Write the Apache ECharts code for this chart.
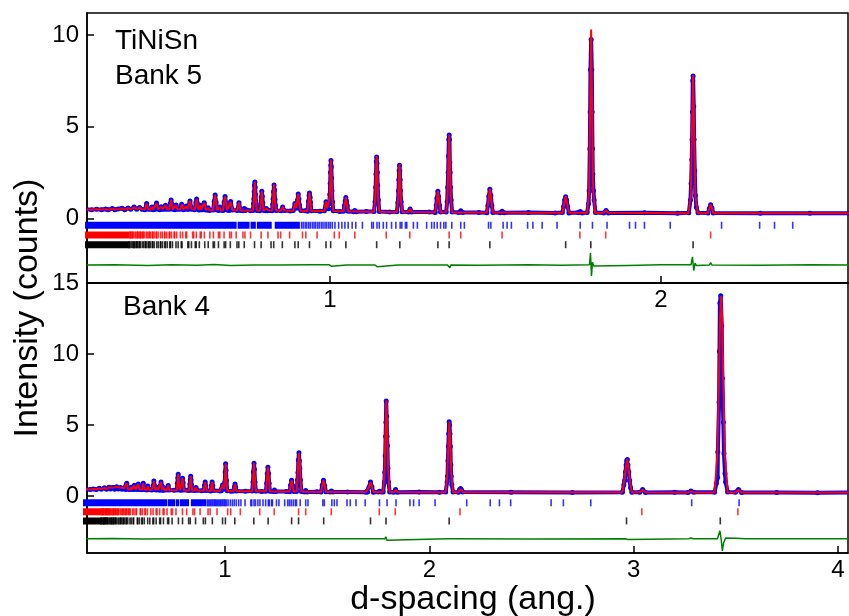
<!DOCTYPE html>
<html><head><meta charset="utf-8">
<script src="https://cdn.jsdelivr.net/npm/echarts@6/dist/echarts.min.js"></script>
<style>html,body{margin:0;padding:0;background:#fff}#c{width:849px;height:616px}</style>
</head><body><div id="c"></div>
<script>
// ---------- Bank 5 (top panel) ----------
const calc5 = [
[0.265,0.48],[0.28,0.47],[0.295,0.49],[0.31,0.48],[0.322,0.5],[0.33,0.47],[0.342,0.52],[0.35,0.48],[0.36,0.5],[0.372,0.54],[0.38,0.48],[0.39,0.55],[0.398,0.5],[0.408,0.6],[0.416,0.5],[0.425,0.58],[0.432,0.5],
[0.441,0.48],[0.446,0.8],[0.451,0.5],[0.458,0.48],[0.462,0.62],[0.466,0.48],[0.471,0.48],[0.476,0.82],[0.481,0.5],
[0.486,0.48],[0.490,0.62],[0.494,0.5],[0.499,0.48],[0.503,0.72],[0.507,0.5],
[0.515,0.5],[0.518,0.8],[0.520,1.02],[0.522,0.8],[0.525,0.48],[0.531,0.48],[0.535,0.72],[0.539,0.5],
[0.547,0.48],[0.552,0.78],[0.557,0.48],[0.562,0.48],[0.566,0.66],[0.570,0.5],[0.573,0.5],[0.577,0.96],[0.582,0.5],
[0.591,0.46],[0.595,0.85],[0.597,1.06],[0.599,0.85],[0.603,0.46],[0.605,0.46],[0.608,0.7],[0.611,0.48],
[0.615,0.46],[0.620,0.86],[0.625,0.46],[0.629,0.44],[0.632,0.56],[0.636,0.44],
[0.647,0.44],[0.650,0.9],[0.653,1.28],[0.656,0.9],[0.659,0.44],[0.664,0.44],[0.667,0.6],[0.670,0.44],
[0.677,0.44],[0.680,0.85],[0.683,1.2],[0.686,0.85],[0.689,0.44],[0.695,0.44],[0.700,0.9],[0.705,0.44],
[0.720,0.44],[0.725,0.86],[0.730,0.42],[0.737,0.42],[0.741,0.52],[0.745,0.42],[0.760,0.42],
[0.767,0.42],[0.770,1.0],[0.7717,1.6],[0.773,2.0],[0.7743,1.6],[0.776,1.0],[0.779,0.42],
[0.788,0.42],[0.7915,0.9],[0.794,1.5],[0.7965,0.9],[0.800,0.42],[0.805,0.42],[0.808,0.52],[0.811,0.42],[0.818,0.42],
[0.825,0.42],[0.828,1.0],[0.8296,1.5],[0.831,1.85],[0.8324,1.5],[0.834,1.0],[0.837,0.42],
[0.852,0.42],[0.857,0.62],[0.862,0.42],[0.880,0.41],
[0.889,0.41],[0.894,0.82],[0.898,0.55],[0.900,0.55],[0.904,1.35],[0.908,0.7],[0.912,0.41],[0.925,0.40],
[0.932,0.40],[0.935,0.9],[0.938,1.4],[0.941,0.9],[0.944,0.40],[0.970,0.40],
[0.983,0.40],[0.988,0.92],[0.992,0.55],[0.996,0.5],[0.9995,1.2],[1.0013,2.5],[1.003,3.2],[1.0047,2.5],[1.0065,1.2],[1.010,0.40],
[1.030,0.38],[1.041,0.38],[1.045,0.8],[1.048,1.16],[1.051,0.8],[1.055,0.38],[1.071,0.37],[1.075,0.42],[1.079,0.37],[1.110,0.36],
[1.133,0.36],[1.137,1.2],[1.139,2.6],[1.141,3.4],[1.143,2.6],[1.145,1.2],[1.149,0.36],[1.180,0.35],
[1.202,0.35],[1.206,1.1],[1.208,2.2],[1.210,2.95],[1.212,2.2],[1.214,1.1],[1.218,0.35],
[1.237,0.35],[1.242,0.5],[1.247,0.35],[1.300,0.33],
[1.318,0.33],[1.322,0.9],[1.326,1.5],[1.330,0.9],[1.334,0.33],
[1.351,0.33],[1.3555,1.4],[1.358,3.4],[1.360,4.55],[1.362,3.4],[1.3645,1.4],[1.369,0.33],
[1.389,0.32],[1.395,0.4],[1.401,0.32],[1.450,0.31],
[1.474,0.31],[1.478,0.9],[1.483,1.6],[1.488,0.9],[1.492,0.31],[1.514,0.31],[1.520,0.38],[1.526,0.31],
[1.600,0.30],[1.680,0.30],[1.702,0.30],[1.707,0.75],[1.712,1.2],[1.717,0.75],[1.722,0.30],
[1.750,0.30],[1.756,0.38],[1.762,0.30],
[1.777,0.30],[1.783,1.5],[1.786,6.0],[1.789,10.3],[1.792,6.0],[1.795,1.5],[1.801,0.30],
[1.827,0.30],[1.834,0.42],[1.841,0.30],[1.950,0.29],[2.050,0.28],
[2.083,0.28],[2.090,1.2],[2.0935,4.6],[2.097,7.8],[2.1005,4.6],[2.104,1.2],[2.111,0.28],
[2.142,0.28],[2.146,0.55],[2.150,0.75],[2.154,0.55],[2.158,0.28],
[2.300,0.28],[2.450,0.27],[2.570,0.27]
];
const obs5 = [
[0.265,0.49],[0.28,0.46],[0.295,0.5],[0.31,0.47],[0.322,0.51],[0.33,0.46],[0.342,0.53],[0.35,0.47],[0.36,0.51],[0.372,0.55],[0.38,0.47],[0.39,0.56],[0.398,0.49],[0.408,0.61],[0.416,0.49],[0.425,0.59],[0.432,0.49],
[0.441,0.47],[0.446,0.81],[0.451,0.49],[0.458,0.49],[0.462,0.61],[0.466,0.47],[0.471,0.49],[0.476,0.83],[0.481,0.49],
[0.486,0.47],[0.490,0.63],[0.494,0.49],[0.499,0.49],[0.503,0.71],[0.507,0.49],
[0.515,0.49],[0.518,0.82],[0.520,1.0],[0.522,0.79],[0.525,0.49],[0.531,0.47],[0.535,0.73],[0.539,0.49],
[0.547,0.49],[0.552,0.77],[0.557,0.47],[0.562,0.49],[0.566,0.67],[0.570,0.49],[0.573,0.49],[0.577,0.95],[0.582,0.49],
[0.591,0.47],[0.595,0.86],[0.597,1.05],[0.599,0.84],[0.603,0.47],[0.605,0.45],[0.608,0.71],[0.611,0.47],
[0.615,0.47],[0.620,0.85],[0.625,0.45],[0.629,0.45],[0.632,0.57],[0.636,0.43],
[0.647,0.45],[0.650,0.92],[0.653,1.27],[0.656,0.88],[0.659,0.45],[0.664,0.43],[0.667,0.61],[0.670,0.45],
[0.677,0.43],[0.680,0.87],[0.683,1.19],[0.686,0.83],[0.689,0.45],[0.695,0.43],[0.700,0.91],[0.705,0.45],
[0.720,0.43],[0.725,0.85],[0.730,0.43],[0.737,0.41],[0.741,0.53],[0.745,0.43],[0.760,0.41],
[0.767,0.43],[0.769,0.8],[0.770,1.05],[0.771,1.45],[0.772,1.8],[0.773,1.98],[0.774,1.7],[0.775,1.3],[0.776,0.95],[0.779,0.43],
[0.788,0.41],[0.791,0.8],[0.7925,1.15],[0.794,1.48],[0.7955,1.2],[0.797,0.85],[0.800,0.43],
[0.805,0.41],[0.808,0.53],[0.811,0.41],[0.818,0.43],
[0.825,0.41],[0.827,0.75],[0.828,1.05],[0.8295,1.45],[0.831,1.82],[0.8325,1.55],[0.834,1.02],[0.8355,0.7],[0.837,0.43],
[0.852,0.41],[0.857,0.61],[0.862,0.43],[0.880,0.40],
[0.889,0.42],[0.894,0.81],[0.898,0.56],[0.900,0.56],[0.902,1.0],[0.904,1.33],[0.906,1.05],[0.908,0.72],[0.912,0.42],[0.925,0.41],
[0.932,0.39],[0.935,0.92],[0.937,1.25],[0.938,1.38],[0.940,1.15],[0.941,0.88],[0.944,0.41],[0.970,0.39],
[0.983,0.41],[0.988,0.9],[0.992,0.56],[0.996,0.52],[0.998,0.8],[0.9995,1.3],[1.0005,1.9],[1.0015,2.5],[1.0025,2.9],[1.003,3.15],[1.004,2.8],[1.005,2.2],[1.006,1.5],[1.0075,0.9],[1.010,0.41],
[1.030,0.37],[1.041,0.39],[1.044,0.7],[1.046,0.95],[1.048,1.14],[1.050,0.95],[1.052,0.7],[1.055,0.39],
[1.071,0.36],[1.075,0.43],[1.079,0.36],[1.110,0.37],
[1.133,0.37],[1.136,0.9],[1.138,1.7],[1.139,2.4],[1.140,3.1],[1.141,3.35],[1.142,3.0],[1.143,2.5],[1.144,1.8],[1.146,1.0],[1.149,0.37],[1.180,0.34],
[1.202,0.36],[1.205,0.85],[1.207,1.5],[1.208,2.1],[1.209,2.6],[1.210,2.9],[1.211,2.6],[1.212,2.1],[1.213,1.5],[1.215,0.9],[1.218,0.36],
[1.237,0.34],[1.242,0.51],[1.247,0.34],[1.300,0.34],
[1.318,0.32],[1.321,0.7],[1.323,1.1],[1.326,1.48],[1.328,1.2],[1.331,0.7],[1.334,0.34],
[1.351,0.34],[1.354,0.9],[1.3555,1.7],[1.357,2.5],[1.358,3.4],[1.359,4.3],[1.360,4.55],[1.361,4.3],[1.362,3.05],[1.363,2.5],[1.364,1.7],[1.366,1.0],[1.369,0.34],
[1.389,0.31],[1.395,0.41],[1.401,0.31],[1.450,0.32],
[1.474,0.30],[1.477,0.7],[1.480,1.2],[1.483,1.58],[1.486,1.25],[1.489,0.7],[1.492,0.32],[1.514,0.30],[1.520,0.39],[1.526,0.30],
[1.600,0.31],[1.680,0.29],[1.702,0.31],[1.706,0.65],[1.709,1.0],[1.712,1.18],[1.715,1.0],[1.718,0.65],[1.722,0.29],
[1.750,0.31],[1.756,0.37],[1.762,0.29],
[1.777,0.32],[1.781,0.8],[1.783,1.5],[1.785,3.8],[1.786,5.8],[1.787,8.1],[1.789,9.75],[1.791,8.1],[1.792,5.8],[1.793,3.8],[1.794,2.4],[1.796,1.5],[1.798,1.0],[1.802,0.32],
[1.827,0.29],[1.834,0.43],[1.841,0.29],[1.950,0.30],[2.050,0.27],
[2.084,0.30],[2.089,1.0],[2.091,1.9],[2.093,3.2],[2.094,4.3],[2.095,5.8],[2.096,7.5],[2.097,7.76],[2.099,6.1],[2.100,4.3],[2.102,2.6],[2.104,1.25],[2.107,0.6],[2.112,0.30],
[2.142,0.29],[2.146,0.54],[2.150,0.74],[2.154,0.56],[2.158,0.29],
[2.300,0.27],[2.450,0.28],[2.570,0.27]
];
const diff5 = [
[0.265,-2.55],[0.35,-2.53],[0.45,-2.57],[0.52,-2.53],[0.60,-2.56],[0.65,-2.52],[0.70,-2.57],[0.770,-2.55],[0.773,-2.5],[0.776,-2.6],[0.779,-2.55],
[0.85,-2.55],[0.94,-2.53],[0.998,-2.54],[1.001,-2.47],[1.005,-2.62],[1.008,-2.55],[1.05,-2.55],
[1.136,-2.55],[1.139,-2.45],[1.143,-2.65],[1.146,-2.55],[1.206,-2.55],[1.209,-2.48],[1.212,-2.62],[1.215,-2.55],[1.3,-2.55],
[1.355,-2.55],[1.358,-2.45],[1.362,-2.7],[1.365,-2.55],[1.45,-2.56],[1.6,-2.54],[1.7,-2.56],
[1.784,-2.53],[1.787,-1.9],[1.790,-3.15],[1.793,-2.4],[1.797,-2.6],[1.800,-2.55],[1.9,-2.57],[2.0,-2.54],
[2.091,-2.53],[2.095,-2.1],[2.099,-2.85],[2.103,-2.45],[2.107,-2.58],[2.110,-2.55],[2.146,-2.55],[2.150,-2.42],[2.154,-2.55],
[2.3,-2.56],[2.45,-2.54],[2.57,-2.55]
];

// ---------- Bank 4 (bottom panel) ----------
const calc4 = [
[0.32,0.48],[0.34,0.47],[0.355,0.5],[0.37,0.48],[0.385,0.55],[0.395,0.5],[0.41,0.58],[0.42,0.5],[0.432,0.62],[0.44,0.52],[0.452,0.6],[0.46,0.5],[0.47,0.65],[0.478,0.52],[0.488,0.6],[0.496,0.5],[0.505,0.55],
[0.513,0.48],[0.519,0.9],[0.525,0.48],[0.535,0.47],[0.540,0.62],[0.545,0.47],[0.551,0.47],[0.556,0.75],[0.561,0.47],
[0.570,0.46],[0.576,0.86],[0.582,0.46],[0.594,0.46],[0.600,0.9],[0.606,0.46],[0.617,0.45],[0.622,0.7],[0.627,0.45],[0.640,0.44],
[0.646,0.44],[0.650,0.8],[0.652,1.08],[0.654,0.8],[0.658,0.44],[0.665,0.44],[0.669,0.6],[0.673,0.44],
[0.681,0.43],[0.687,1.0],[0.693,0.43],[0.696,0.43],[0.700,0.6],[0.704,0.43],[0.716,0.42],[0.722,0.76],[0.728,0.42],[0.750,0.42],
[0.764,0.42],[0.768,1.0],[0.771,1.55],[0.774,1.0],[0.778,0.42],[0.786,0.42],[0.789,0.9],[0.792,1.27],[0.795,0.9],[0.799,0.42],[0.815,0.40],
[0.825,0.40],[0.829,0.95],[0.832,1.41],[0.835,0.95],[0.839,0.40],[0.852,0.40],[0.858,0.62],[0.864,0.40],[0.885,0.39],
[0.896,0.39],[0.900,0.75],[0.903,1.0],[0.906,0.75],[0.910,0.39],[0.930,0.38],[0.934,0.75],[0.937,1.0],[0.940,0.75],[0.944,0.38],[0.975,0.37],
[0.982,0.37],[0.988,0.8],[0.994,0.5],[0.997,0.5],[1.000,1.4],[1.003,2.3],[1.006,1.4],[1.011,0.37],[1.030,0.36],
[1.042,0.36],[1.049,0.86],[1.056,0.36],[1.100,0.35],
[1.133,0.35],[1.138,1.3],[1.142,2.35],[1.146,1.3],[1.151,0.35],[1.180,0.34],
[1.200,0.34],[1.205,1.2],[1.210,2.06],[1.215,1.2],[1.220,0.34],[1.236,0.33],[1.242,0.42],[1.248,0.33],[1.300,0.32],
[1.316,0.32],[1.321,0.75],[1.326,1.13],[1.331,0.75],[1.336,0.32],
[1.350,0.32],[1.355,1.3],[1.3585,2.4],[1.362,3.05],[1.3655,2.4],[1.369,1.3],[1.374,0.32],
[1.388,0.31],[1.395,0.38],[1.402,0.31],[1.450,0.30],
[1.470,0.30],[1.476,0.75],[1.482,1.13],[1.488,0.75],[1.494,0.30],[1.514,0.30],[1.521,0.36],[1.528,0.30],
[1.600,0.29],[1.690,0.29],[1.698,0.29],[1.705,0.65],[1.712,1.0],[1.719,0.65],[1.726,0.29],
[1.750,0.29],[1.757,0.36],[1.764,0.29],
[1.774,0.29],[1.781,1.8],[1.7855,4.6],[1.790,6.75],[1.7945,4.6],[1.799,1.8],[1.806,0.29],
[1.826,0.29],[1.835,0.45],[1.844,0.29],[1.950,0.28],[2.050,0.28],
[2.080,0.28],[2.088,1.5],[2.093,3.6],[2.098,5.25],[2.103,3.6],[2.108,1.5],[2.116,0.28],
[2.143,0.28],[2.148,0.45],[2.153,0.55],[2.158,0.45],[2.163,0.28],
[2.400,0.27],[2.700,0.27],[2.945,0.27],[2.955,1.2],[2.962,2.0],[2.968,2.6],[2.974,2.0],[2.981,1.2],[2.991,0.27],
[3.030,0.27],[3.044,0.45],[3.058,0.27],[3.200,0.26],[3.266,0.26],[3.280,0.36],[3.294,0.26],
[3.396,0.26],[3.410,3.0],[3.418,8.5],[3.423,12.5],[3.428,14.1],[3.433,12.5],[3.438,8.5],[3.446,3.0],[3.460,0.26],
[3.498,0.26],[3.513,0.46],[3.528,0.26],[3.700,0.25],[3.900,0.25],[4.050,0.25]
];
const obs4 = [
[0.32,0.49],[0.34,0.46],[0.355,0.51],[0.37,0.47],[0.385,0.56],[0.395,0.49],[0.41,0.59],[0.42,0.49],[0.432,0.63],[0.44,0.51],[0.452,0.61],[0.46,0.49],[0.47,0.66],[0.478,0.51],[0.488,0.61],[0.496,0.49],[0.505,0.56],
[0.513,0.47],[0.519,0.91],[0.525,0.49],[0.535,0.46],[0.540,0.63],[0.545,0.48],[0.551,0.46],[0.556,0.76],[0.561,0.48],
[0.570,0.47],[0.576,0.85],[0.582,0.47],[0.594,0.45],[0.600,0.91],[0.606,0.47],[0.617,0.44],[0.622,0.71],[0.627,0.46],[0.640,0.43],
[0.646,0.45],[0.649,0.75],[0.652,1.07],[0.655,0.75],[0.658,0.45],[0.665,0.43],[0.669,0.61],[0.673,0.45],
[0.681,0.42],[0.684,0.75],[0.687,0.99],[0.690,0.75],[0.693,0.44],[0.696,0.42],[0.700,0.61],[0.704,0.44],[0.716,0.43],[0.722,0.75],[0.728,0.43],[0.750,0.41],
[0.764,0.43],[0.767,0.9],[0.769,1.3],[0.771,1.54],[0.773,1.25],[0.775,0.9],[0.778,0.43],[0.786,0.41],[0.789,0.85],[0.792,1.26],[0.795,0.95],[0.799,0.43],[0.815,0.41],
[0.825,0.39],[0.828,0.85],[0.830,1.15],[0.832,1.40],[0.834,1.15],[0.836,0.8],[0.839,0.41],[0.852,0.39],[0.858,0.61],[0.864,0.41],[0.885,0.38],
[0.896,0.40],[0.900,0.76],[0.903,0.99],[0.906,0.74],[0.910,0.40],[0.930,0.37],[0.934,0.76],[0.937,0.99],[0.940,0.74],[0.944,0.39],[0.975,0.36],
[0.982,0.38],[0.988,0.79],[0.994,0.51],[0.997,0.51],[0.999,1.0],[1.001,1.7],[1.003,2.28],[1.005,1.8],[1.007,1.1],[1.011,0.38],[1.030,0.35],
[1.042,0.37],[1.046,0.65],[1.049,0.85],[1.052,0.65],[1.056,0.37],[1.100,0.34],
[1.133,0.36],[1.137,1.0],[1.139,1.7],[1.142,2.32],[1.144,1.9],[1.147,1.0],[1.151,0.36],[1.180,0.33],
[1.200,0.35],[1.204,0.9],[1.207,1.6],[1.210,2.04],[1.213,1.6],[1.216,0.9],[1.220,0.35],[1.236,0.32],[1.242,0.43],[1.248,0.32],[1.300,0.33],
[1.316,0.31],[1.321,0.76],[1.326,1.12],[1.331,0.74],[1.336,0.33],
[1.350,0.33],[1.355,1.13],[1.357,1.67],[1.359,2.54],[1.362,3.05],[1.364,2.5],[1.366,1.97],[1.369,1.13],[1.374,0.33],
[1.388,0.30],[1.395,0.39],[1.402,0.30],[1.450,0.31],
[1.470,0.29],[1.476,0.76],[1.482,1.12],[1.488,0.74],[1.494,0.31],[1.514,0.29],[1.521,0.37],[1.528,0.29],
[1.600,0.30],[1.690,0.28],[1.698,0.30],[1.705,0.64],[1.712,0.99],[1.719,0.66],[1.726,0.28],
[1.750,0.30],[1.757,0.35],[1.764,0.30],
[1.774,0.30],[1.780,1.0],[1.782,1.67],[1.784,2.84],[1.786,4.2],[1.7875,5.2],[1.789,6.69],[1.791,5.63],[1.793,4.2],[1.795,3.55],[1.797,1.97],[1.800,1.0],[1.806,0.30],
[1.826,0.28],[1.835,0.46],[1.844,0.28],[1.950,0.29],[2.050,0.27],
[2.080,0.29],[2.087,1.0],[2.089,1.4],[2.091,2.5],[2.093,3.5],[2.095,4.4],[2.097,5.23],[2.099,5.0],[2.101,4.4],[2.103,3.5],[2.105,2.2],[2.107,1.4],[2.110,0.8],[2.116,0.29],
[2.143,0.27],[2.148,0.46],[2.153,0.54],[2.158,0.44],[2.163,0.29],
[2.400,0.28],[2.700,0.26],[2.945,0.28],[2.952,0.8],[2.956,1.1],[2.960,1.7],[2.963,2.2],[2.966,2.5],[2.969,2.58],[2.972,2.2],[2.976,1.7],[2.980,1.1],[2.985,0.6],[2.991,0.28],
[3.030,0.28],[3.044,0.46],[3.058,0.26],[3.200,0.27],[3.266,0.25],[3.280,0.37],[3.294,0.27],
[3.396,0.27],[3.405,0.9],[3.411,1.32],[3.412,3.1],[3.418,6.6],[3.420,10.2],[3.422,13.6],[3.426,14.1],[3.431,12.0],[3.434,8.3],[3.439,5.2],[3.442,3.0],[3.447,1.6],[3.450,1.0],[3.460,0.30],
[3.498,0.27],[3.513,0.47],[3.528,0.25],[3.700,0.26],[3.900,0.24],[4.050,0.26]
];
const diff4 = [
[0.32,-3.0],[0.45,-2.98],[0.6,-3.02],[0.768,-3.0],[0.771,-2.96],[0.774,-3.03],[0.777,-3.0],[1.0,-3.0],[1.003,-2.96],[1.006,-3.04],[1.009,-3.0],
[1.137,-3.0],[1.140,-2.95],[1.145,-3.04],[1.148,-3.0],[1.357,-3.0],[1.360,-2.95],[1.365,-3.05],[1.368,-3.0],[1.5,-3.0],
[1.783,-3.0],[1.787,-2.85],[1.792,-3.1],[1.797,-3.0],[2.091,-3.0],[2.095,-2.88],[2.100,-3.05],[2.105,-3.0],[2.5,-3.01],
[2.960,-3.0],[2.965,-2.95],[2.972,-3.05],[2.978,-3.0],[3.270,-3.0],[3.280,-2.95],[3.290,-3.0],
[3.410,-3.0],[3.415,-2.9],[3.422,-2.44],[3.428,-3.0],[3.434,-3.85],[3.440,-3.3],[3.450,-2.95],[3.500,-2.97],[3.550,-3.0],[3.8,-3.0],[4.05,-3.0]
];

// ---------- reflection tick positions (d, ang.) ----------
const blueBands = [[0.26,0.718],[0.721,0.757],[0.760,0.776],[0.779,0.824],[0.833,0.909]];
const blueTicks = [0.914,0.919,0.925,0.930,0.936,0.941,0.947,0.952,0.957,0.963,0.968,0.974,0.979,0.985,0.990,0.996,1.001,1.007,1.015,1.026,1.036,1.045,1.055,1.067,1.078,1.098,1.126,1.131,1.142,1.149,1.161,1.171,1.186,1.199,1.212,1.217,1.228,1.232,1.252,1.264,1.292,1.307,1.315,1.324,1.334,1.344,1.350,1.368,1.395,1.406,1.479,1.486,1.523,1.535,1.548,1.597,1.613,1.641,1.686,1.756,1.793,1.837,1.905,1.923,1.950,2.028,2.183,2.298,2.343,2.398,2.596,2.656,2.790,3.284,3.516];
const redBand = [0.26,0.394];
const redTicks = [3.510,3.040,2.150,1.833,1.755,1.520,1.395,1.360,1.241,1.170,1.075,1.028,1.013,0.961,0.927,0.917,0.878,0.851,0.843,0.8125,0.792,0.760,0.743,0.737,0.7165,0.702,0.697,0.680,0.667,0.663,0.648,0.637,0.6205,0.611,0.608,0.596,0.588,0.585,0.567,0.5645,0.555,0.548,0.537,0.531,0.529,0.521,0.516,0.514,0.507,0.5015,0.4998,0.4932,0.4884,0.4807,0.4762,0.4748,0.4691,0.4649,0.4636,0.4583,0.4544,0.4532,0.4482,0.4446,0.4388,0.4354,0.4343,0.4299,0.4267,0.4257,0.4216,0.4186,0.4176,0.4137,0.4108,0.4062,0.4035,0.4026,0.3992,0.3966,0.3958];
const blackBand = [0.26,0.392];
const blackTicks = [3.424,2.965,2.097,1.788,1.712,1.483,1.360,1.326,1.211,1.141,1.048,1.002,0.988,0.938,0.904,0.894,0.856,0.830,0.822,0.792,0.772,0.741,0.7245,0.7191,0.6989,0.6847,0.6802,0.6630,0.6509,0.6470,0.6321,0.6216,0.6052,0.5960,0.5930,0.5815,0.5733,0.5706,0.5530,0.5506,0.5413,0.5347,0.5241,0.5181,0.5161,0.5085,0.5030,0.5012,0.4942,0.4891,0.4874,0.4810,0.4763,0.4688,0.4645,0.4631,0.4575,0.4535,0.4522,0.4470,0.4432,0.4420,0.4372,0.4336,0.4280,0.4247,0.4236,0.4193,0.4162,0.4152,0.4112,0.4082,0.4073,0.4035,0.4007,0.3962,0.3936,0.3927];

// ---------- axis tick labels ----------
const xTicks5 = [1,2];
const yTicks5 = [0,5,10];
const xTicks4 = [1,2,3,4];
const yTicks4 = [0,5,10,15];

// ---------- build chart ----------
const FONT = '"Liberation Sans", Arial, Helvetica, sans-serif';
const BLUE = '#0000ff', RED = '#ff0000', BLACK = '#000000', GREEN = '#008000';
const panels = [
  {calc:calc5, obs:obs5, diff:diff5, xr:[0.2659,2.565], yr:[-3.53,11.2], xt:xTicks5, yt:yTicks5, rowB:-0.38, rowR:-0.91, rowK:-1.44},
  {calc:calc4, obs:obs4, diff:diff4, xr:[0.3246,4.049], yr:[-4,15], xt:xTicks4, yt:yTicks4, rowB:-0.47, rowR:-1.10, rowK:-1.74}
];
const grid = [], xAxis = [], yAxis = [], series = [];
panels.forEach((p, g) => {
  grid.push({left:87, top: g === 0 ? 13 : 283, width:761, height:270, show:true, borderColor:'#000', borderWidth:1.5, backgroundColor:'transparent'});
  xAxis.push({gridIndex:g, type:'value', min:p.xr[0], max:p.xr[1],
    axisLine:{show:true, onZero:false, lineStyle:{color:'#000', width:1.5}},
    axisTick:{show:true, inside:true, length:7, customValues:p.xt, lineStyle:{color:'#000', width:1.5}},
    axisLabel:{show:true, customValues:p.xt, fontSize:24, color:'#000', fontFamily:FONT, margin:5},
    splitLine:{show:false}});
  yAxis.push({gridIndex:g, type:'value', min:p.yr[0], max:p.yr[1],
    axisLine:{show:true, onZero:false, lineStyle:{color:'#000', width:1.5}},
    axisTick:{show:true, inside:true, length:7, customValues:p.yt, lineStyle:{color:'#000', width:1.5}},
    axisLabel:{show:true, customValues:p.yt, fontSize:24, color:'#000', fontFamily:FONT, margin:8, showMinLabel:true, showMaxLabel:true},
    splitLine:{show:false}});
  const band = (r, y, c) => ({type:'line', xAxisIndex:g, yAxisIndex:g, data:[[r[0],y],[r[1],y]], symbol:'none', silent:true, animation:false,
    lineStyle:{color:c, width:7, cap:'butt'}, z:1});
  const ticks = (arr, y, c) => ({type:'scatter', xAxisIndex:g, yAxisIndex:g, data:arr.map(d => [d, y]), symbol:'rect', symbolSize:[1.6,7],
    itemStyle:{color:c}, silent:true, animation:false, z:1});
  blueBands.forEach(b => series.push(band(b, p.rowB, BLUE)));
  series.push(ticks(blueTicks, p.rowB, BLUE));
  series.push(band(redBand, p.rowR, RED));
  series.push(ticks(redTicks, p.rowR, RED));
  series.push(band(blackBand, p.rowK, BLACK));
  series.push(ticks(blackTicks, p.rowK, BLACK));
  series.push({type:'line', xAxisIndex:g, yAxisIndex:g, data:p.diff, symbol:'none', silent:true, animation:false,
    lineStyle:{color:GREEN, width:1.5}, z:2});
  series.push({type:'line', xAxisIndex:g, yAxisIndex:g, data:p.obs, symbol:'circle', symbolSize:5, showSymbol:true, silent:true, animation:false,
    itemStyle:{color:BLUE}, lineStyle:{color:BLUE, width:4}, z:3});
  series.push({type:'line', xAxisIndex:g, yAxisIndex:g, data:p.calc, symbol:'none', silent:true, animation:false,
    lineStyle:{color:RED, width:2}, z:4});
});

const chart = echarts.init(document.getElementById('c'), null, {renderer:'canvas'});
chart.setOption({
  animation:false,
  backgroundColor:'#ffffff',
  grid, xAxis, yAxis, series,
  graphic:[
    {type:'text', x:115, y:41, style:{text:'TiNiSn', font:'28px ' + FONT, fill:'#000', textAlign:'left', textVerticalAlign:'middle'}},
    {type:'text', x:115, y:76, style:{text:'Bank 5', font:'28px ' + FONT, fill:'#000', textAlign:'left', textVerticalAlign:'middle'}},
    {type:'text', x:123, y:307, style:{text:'Bank 4', font:'28px ' + FONT, fill:'#000', textAlign:'left', textVerticalAlign:'middle'}},
    {type:'text', x:28, y:308, rotation:Math.PI/2, style:{text:'Intensity (counts)', font:'34px ' + FONT, fill:'#000', textAlign:'center', textVerticalAlign:'middle'}},
    {type:'text', x:473, y:600, style:{text:'d-spacing (ang.)', font:'34px ' + FONT, fill:'#000', textAlign:'center', textVerticalAlign:'middle'}}
  ]
});
</script>
</body></html>
